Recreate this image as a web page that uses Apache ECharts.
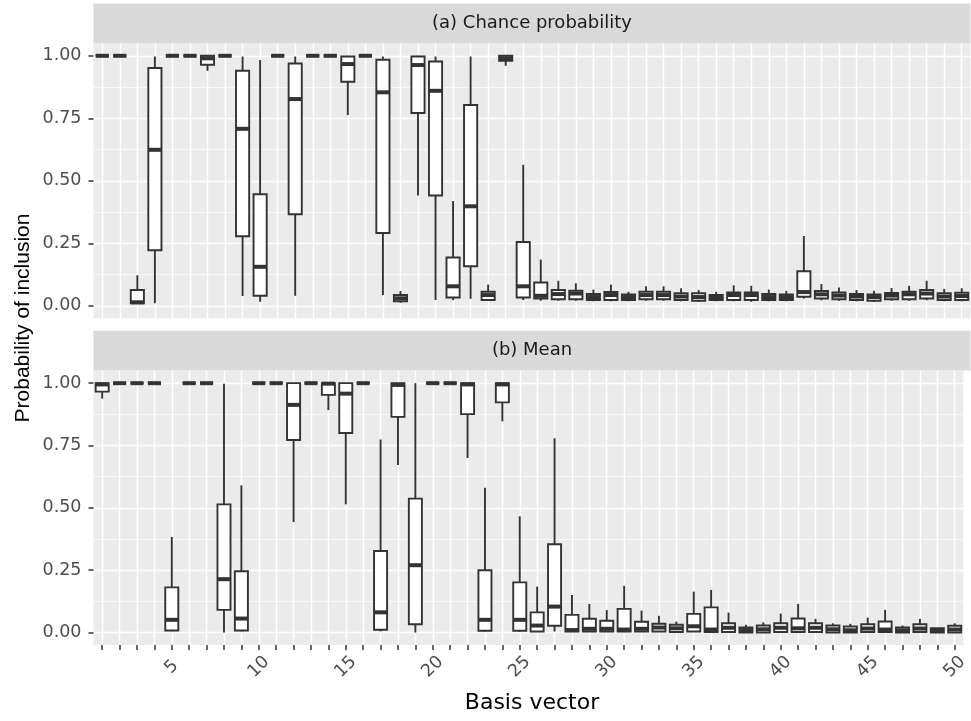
<!DOCTYPE html>
<html>
<head>
<meta charset="utf-8">
<script src="https://cdn.jsdelivr.net/npm/echarts@6/dist/echarts.min.js"></script>
<style>html,body{margin:0;padding:0;background:#ffffff}#c{width:971px;height:721px}</style>
</head>
<body>
<div id="c"></div>
<script>
// ---------------- data ----------------
const categories = ['1','2','3','4','5','6','7','8','9','10','11','12','13','14','15','16','17','18','19','20',
  '21','22','23','24','25','26','27','28','29','30','31','32','33','34','35','36','37','38','39','40',
  '41','42','43','44','45','46','47','48','49','50'];
const shownXLabels = ['5','10','15','20','25','30','35','40','45','50'];
const yTicks = [0, 0.25, 0.5, 0.75, 1];
const yTickLabels = ['0.00', '0.25', '0.50', '0.75', '1.00'];
const yMinorLines = [0.125, 0.375, 0.625, 0.875];
const panelTitles = ['(a) Chance probability', '(b) Mean'];
const xTitle = 'Basis vector';
const yTitle = 'Probability of inclusion';

// (a) Chance probability : whisker low, Q1, median, Q3, whisker high
const chanceLow  = [1,1,0.01,0.01,1,1,0.94,1,0.039,0.016,1,0.04,1,1,0.763,1,0.043,0.012,0.441,0.023,
  0.023,0.028,0.02,0.96,0.023,0.02,0.02,0.02,0.018,0.018,0.018,0.02,0.02,0.018,0.015,0.018,0.018,0.016,0.018,0.018,
  0.029,0.022,0.02,0.018,0.015,0.02,0.02,0.022,0.018,0.018];
const chanceQ1   = [1,1,0.01,0.222,1,1,0.964,1,0.278,0.04,1,0.366,1,1,0.896,1,0.291,0.018,0.771,0.441,
  0.033,0.158,0.023,0.98,0.033,0.029,0.026,0.026,0.023,0.023,0.023,0.026,0.026,0.023,0.02,0.023,0.023,0.023,0.023,0.023,
  0.036,0.029,0.026,0.023,0.02,0.026,0.026,0.029,0.023,0.023];
const chanceMed  = [1,1,0.014,0.624,1,1,0.99,1,0.708,0.156,1,0.827,1,1,0.967,1,0.854,0.03,0.963,0.86,
  0.078,0.398,0.043,0.99,0.078,0.04,0.047,0.049,0.035,0.043,0.035,0.043,0.043,0.037,0.035,0.033,0.043,0.043,0.035,0.035,
  0.055,0.046,0.041,0.037,0.035,0.041,0.046,0.049,0.037,0.039];
const chanceQ3   = [1,1,0.063,0.951,1,1,1,1,0.94,0.446,1,0.969,1,1,0.997,1,0.984,0.043,0.997,0.977,
  0.193,0.803,0.056,1,0.255,0.093,0.063,0.06,0.047,0.055,0.045,0.056,0.056,0.05,0.05,0.043,0.053,0.053,0.047,0.045,
  0.138,0.059,0.053,0.047,0.045,0.051,0.056,0.063,0.05,0.052];
const chanceHigh = [1,1,0.122,0.997,1,1,1,1,0.997,0.983,1,0.997,1,1,1,1,0.997,0.059,1,0.997,
  0.419,0.997,0.085,1,0.564,0.185,0.1,0.09,0.065,0.085,0.056,0.078,0.078,0.07,0.063,0.056,0.082,0.08,0.065,0.06,
  0.279,0.087,0.073,0.063,0.06,0.071,0.08,0.1,0.067,0.07];

// (b) Mean
const meanLow  = [0.938,1,1,1,0.005,1,1,0,0.005,1,1,0.443,1,0.892,0.514,1,0.005,0.672,0,1,
  1,0.7,0.004,0.847,0.004,0.002,0.004,0.002,0.002,0.002,0.002,0.002,0.002,0,0.002,0,0,0,0,0,
  0,0,0,0,0,0,0,0,0,0];
const meanQ1   = [0.966,1,1,1,0.008,1,1,0.091,0.008,1,1,0.772,1,0.953,0.8,1,0.011,0.865,0.033,1,
  1,0.876,0.007,0.923,0.007,0.004,0.027,0.004,0.004,0.004,0.004,0.004,0.004,0.002,0.004,0.002,0.002,0,0,0.002,
  0.002,0.002,0,0,0.002,0.002,0,0.002,0,0];
const meanMed  = [0.995,1,1,1,0.051,1,1,0.214,0.056,1,1,0.913,1,0.998,0.958,1,0.081,0.993,0.27,1,
  1,0.995,0.051,0.995,0.051,0.028,0.104,0.01,0.015,0.015,0.012,0.015,0.02,0.017,0.025,0.012,0.019,0.01,0.013,0.019,
  0.017,0.019,0.013,0.009,0.016,0.012,0.009,0.016,0.008,0.012];
const meanQ3   = [1,1,1,1,0.181,1,1,0.514,0.246,1,1,1,1,1,1,1,0.327,1,0.537,1,
  1,1,0.25,1,0.201,0.081,0.354,0.071,0.055,0.047,0.095,0.043,0.035,0.031,0.075,0.101,0.037,0.02,0.028,0.037,
  0.056,0.037,0.028,0.024,0.033,0.044,0.02,0.033,0.017,0.027];
const meanHigh = [1,1,1,1,0.383,1,1,0.998,0.59,1,1,1,1,1,1,1,0.774,1,1,1,
  1,1,0.581,1,0.466,0.184,0.779,0.151,0.115,0.09,0.187,0.088,0.067,0.044,0.164,0.171,0.08,0.031,0.041,0.076,
  0.115,0.055,0.037,0.035,0.06,0.091,0.028,0.055,0.017,0.037];

// ---------------- styling ----------------
const FONT = 'DejaVu Sans';
const INK = '#333333';
const PANEL_LEFT = 93.5, PANEL_W = 877;
const panels = [
  {top: 43.3, height: 275, stripTop: 3.5},
  {top: 370.7, height: 274.3, stripTop: 330.7}
];
const STRIP_H = 39.8;

function buildRows(lo, q1, med, q3, hi) {
  return categories.map((c, i) => [i, lo[i], q1[i], med[i], q3[i], hi[i]]);
}
const catValues = categories.map(Number);

function renderBox(params, api) {
  const x = api.value(0);
  const pLo = api.coord([x, api.value(1)]);
  const pQ1 = api.coord([x, api.value(2)]);
  const pMed = api.coord([x, api.value(3)]);
  const pQ3 = api.coord([x, api.value(4)]);
  const pHi = api.coord([x, api.value(5)]);
  const band = api.size([1, 0])[0];
  const w = band * 0.75;
  const cx = pMed[0];
  return {
    type: 'group',
    children: [
      {type: 'line', shape: {x1: cx, y1: pHi[1], x2: cx, y2: pQ3[1]}, style: {stroke: INK, lineWidth: 1.9}},
      {type: 'line', shape: {x1: cx, y1: pQ1[1], x2: cx, y2: pLo[1]}, style: {stroke: INK, lineWidth: 1.9}},
      {type: 'rect', shape: {x: cx - w / 2, y: pQ3[1], width: w, height: pQ1[1] - pQ3[1]},
        style: {fill: '#ffffff', stroke: INK, lineWidth: 1.9}},
      {type: 'line', shape: {x1: cx - w / 2, y1: pMed[1], x2: cx + w / 2, y2: pMed[1]},
        style: {stroke: INK, lineWidth: 4}}
    ]
  };
}

const grids = panels.map(p => ({
  left: PANEL_LEFT, top: p.top, width: PANEL_W, height: p.height,
  show: true, backgroundColor: '#EBEBEB', borderWidth: 0, containLabel: false
}));

const xAxes = [];
const yAxes = [];
panels.forEach((p, gi) => {
  const isBottom = gi === panels.length - 1;
  xAxes.push({
    gridIndex: gi, type: 'category', data: categories, boundaryGap: true, position: 'bottom',
    axisLine: {show: false, onZero: false},
    axisTick: {show: isBottom, alignWithLabel: true, interval: 0, length: 5,
      lineStyle: {color: INK, width: 1.5}},
    axisLabel: {show: isBottom, interval: (idx, val) => shownXLabels.indexOf(val) >= 0,
      rotate: 45, align: 'center', verticalAlign: 'middle',
      fontSize: 17.5, fontFamily: FONT, color: '#4D4D4D', margin: 22},
    splitLine: {show: false}
  });
  xAxes.push({
    gridIndex: gi, type: 'value', min: 0.5, max: 50.5, position: 'bottom',
    axisLine: {show: false, onZero: false},
    axisTick: {show: false, customValues: catValues},
    axisLabel: {show: false},
    splitLine: {show: true, lineStyle: {color: '#FFFFFF', width: 1.4}}
  });
  yAxes.push({
    gridIndex: gi, type: 'value', min: -0.05, max: 1.05,
    axisLine: {show: false, onZero: false},
    axisTick: {show: true, customValues: yTicks, length: 5, lineStyle: {color: INK, width: 1.5}},
    axisLabel: {show: true, customValues: yTicks, fontSize: 17.5, fontFamily: FONT, color: '#4D4D4D', margin: 12,
      formatter: v => { const k = yTicks.findIndex(t => Math.abs(t - v) < 1e-9); return k >= 0 ? yTickLabels[k] : ''; }},
    splitLine: {show: true, lineStyle: {color: '#FFFFFF', width: 1.4}}
  });
  yAxes.push({
    gridIndex: gi, type: 'value', min: -0.05, max: 1.05, position: 'left',
    axisLine: {show: false, onZero: false},
    axisTick: {show: false, customValues: yMinorLines},
    axisLabel: {show: false},
    splitLine: {show: true, lineStyle: {color: '#FFFFFF', width: 0.7}}
  });
});

const series = [
  {type: 'custom', name: panelTitles[0], xAxisIndex: 0, yAxisIndex: 0, z: 3,
    data: buildRows(chanceLow, chanceQ1, chanceMed, chanceQ3, chanceHigh),
    encode: {x: 0, y: [1, 2, 3, 4, 5]}, renderItem: renderBox, silent: true},
  {type: 'custom', name: panelTitles[1], xAxisIndex: 2, yAxisIndex: 2, z: 3,
    data: buildRows(meanLow, meanQ1, meanMed, meanQ3, meanHigh),
    encode: {x: 0, y: [1, 2, 3, 4, 5]}, renderItem: renderBox, silent: true}
];

const graphics = [];
panels.forEach((p, gi) => {
  graphics.push({type: 'rect', silent: true, z: 0,
    shape: {x: PANEL_LEFT, y: p.stripTop, width: PANEL_W, height: STRIP_H},
    style: {fill: '#D9D9D9'}});
  graphics.push({type: 'text', silent: true, z: 1,
    x: PANEL_LEFT + PANEL_W / 2, y: p.stripTop + STRIP_H / 2,
    style: {text: panelTitles[gi], fontSize: 18, fontFamily: FONT, fill: '#1A1A1A',
      align: 'center', verticalAlign: 'middle'}});
});
graphics.push({type: 'text', silent: true, x: 532, y: 703,
  style: {text: xTitle, fontSize: 22, fontFamily: FONT, fill: '#000000', align: 'center', verticalAlign: 'middle'}});
graphics.push({type: 'text', silent: true, x: 23, y: 318, rotation: Math.PI / 2,
  style: {text: yTitle, fontSize: 21, fontFamily: 'Liberation Sans', fill: '#000000', align: 'center', verticalAlign: 'middle'}});

const chart = echarts.init(document.getElementById('c'), null, {renderer: 'canvas'});
chart.setOption({
  animation: false,
  backgroundColor: '#FFFFFF',
  grid: grids,
  xAxis: xAxes,
  yAxis: yAxes,
  series: series,
  graphic: graphics
});
</script>
</body>
</html>
